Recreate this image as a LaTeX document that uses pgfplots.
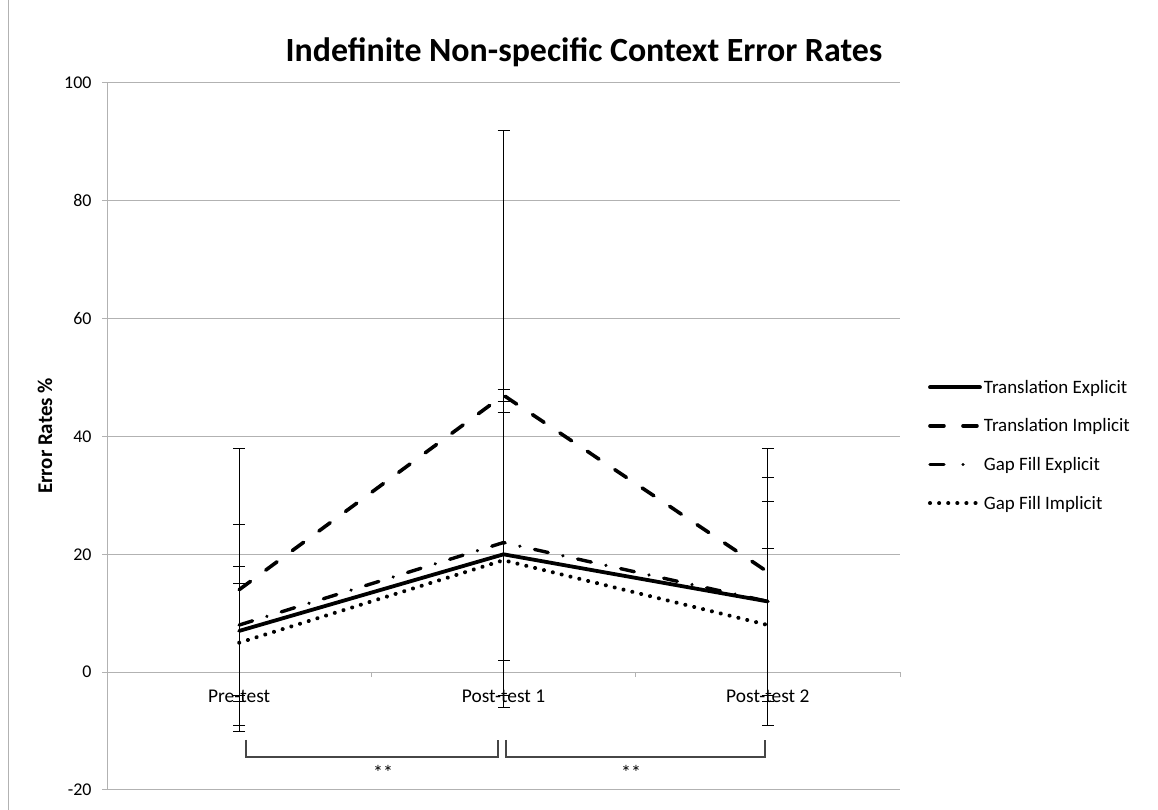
\documentclass[border=0pt]{standalone}
\usepackage{fontspec}
\setmainfont{Carlito}
\usepackage{pgfplots}
\pgfplotsset{compat=1.18}
\definecolor{gridgray}{RGB}{178,178,178}
\definecolor{brk}{RGB}{70,70,70}
\pgfplotsset{gelegend/.style={legend image code/.code={\draw[##1, dash pattern=on 14bp off 19bp on 0.1bp off 40bp] (0bp,0bp) -- (34bp,0bp); \path (50bp,0bp);}}}
\begin{document}
\begin{tikzpicture}[x=1bp,y=1bp]
\path[use as bounding box] (0,0) rectangle (1158,810);
\draw[gridgray, line width=1bp] (8,0) -- (8,810);
\begin{axis}[
  at={(107bp,20bp)}, anchor=south west,
  scale only axis, width=793bp, height=707bp,
  xmin=-0.5, xmax=2.5, ymin=-20, ymax=100,
  axis x line=middle, axis y line=left,
  axis line style={gridgray, line width=1bp, -},
  ytick={-20,0,...,100},
  ymajorgrids, grid style={gridgray, line width=1bp},
  tick style={gridgray, line width=1bp},
  tick align=outside, major tick length=5bp,
  xtick={-0.5,0.5,1.5,2.5}, xticklabels={},
  extra x ticks={0,1,2},
  extra x tick labels={Pre-test,Post-test 1,Post-test 2},
  extra x tick style={major tick length=0pt, xticklabel style={yshift=-14bp}},
  /pgf/number format/assume math mode=true,
  xticklabel style={font=\fontsize{19.5}{22}\selectfont, text=black},
  yticklabel style={font=\fontsize{18}{20}\selectfont, text=black, xshift=-7bp},
  legend style={at={(1.035,0.583)}, anchor=north west, draw=none, fill=none,
    font=\fontsize{19}{21}\selectfont, row sep=20bp, inner sep=0pt,
    cells={anchor=west}},
  legend image code/.code={\draw[#1] (0bp,0bp) -- (50bp,0bp);},
  clip=false,
]
\addplot[black, line width=3.8bp, line cap=round,
  error bars/.cd, y dir=both, y explicit,
  error bar style={line width=1bp, solid, black, line cap=butt},
  error mark options={rotate=90, line width=1bp, solid, black, mark size=6bp}]
  coordinates {(0,7) +- (0,11) (1,20) +- (0,26) (2,12) +- (0,21)};
\addlegendentry{Translation Explicit}
\addplot[black, line width=3.6bp, line cap=round, dash pattern=on 14bp off 19bp,
  error bars/.cd, y dir=both, y explicit,
  error bar style={line width=1bp, solid, black, line cap=butt},
  error mark options={rotate=90, line width=1bp, solid, black, mark size=6bp}]
  coordinates {(0,14) +- (0,24) (1,47) +- (0,45) (2,17) +- (0,21)};
\addlegendentry{Translation Implicit}
\addplot[black, line width=3.4bp, line cap=round, dash pattern=on 14bp off 15bp on 0.1bp off 15bp,
  gelegend,
  error bars/.cd, y dir=both, y explicit,
  error bar style={line width=1bp, solid, black, line cap=butt},
  error mark options={rotate=90, line width=1bp, solid, black, mark size=6bp}]
  coordinates {(0,8) +- (0,17) (1,22) +- (0,26) (2,12) +- (0,17)};
\addlegendentry{Gap Fill Explicit}
\addplot[black, line width=4bp, line cap=round, dash pattern=on 0.1bp off 9bp,
  error bars/.cd, y dir=both, y explicit,
  error bar style={line width=1bp, solid, black, line cap=butt},
  error mark options={rotate=90, line width=1bp, solid, black, mark size=6bp}]
  coordinates {(0,5) +- (0,10) (1,19) +- (0,25) (2,8) +- (0,13)};
\addlegendentry{Gap Fill Implicit}
\end{axis}
\node[font=\bfseries\fontsize{34}{38}\selectfont] at (584,758) {Indefinite Non-specific Context Error Rates};
\node[rotate=90, font=\bfseries\fontsize{21}{23}\selectfont] at (45,374) {Error Rates \%};
\draw[brk, line width=1.3bp] (246,70) -- (246,53) -- (498,53) -- (498,70);
\draw[brk, line width=1.3bp] (506,70) -- (506,53) -- (765,53) -- (765,70);
\node[font=\fontsize{20}{22}\selectfont] at (383,38) {**};
\node[font=\fontsize{20}{22}\selectfont] at (631,38) {**};
\end{tikzpicture}
\end{document}
